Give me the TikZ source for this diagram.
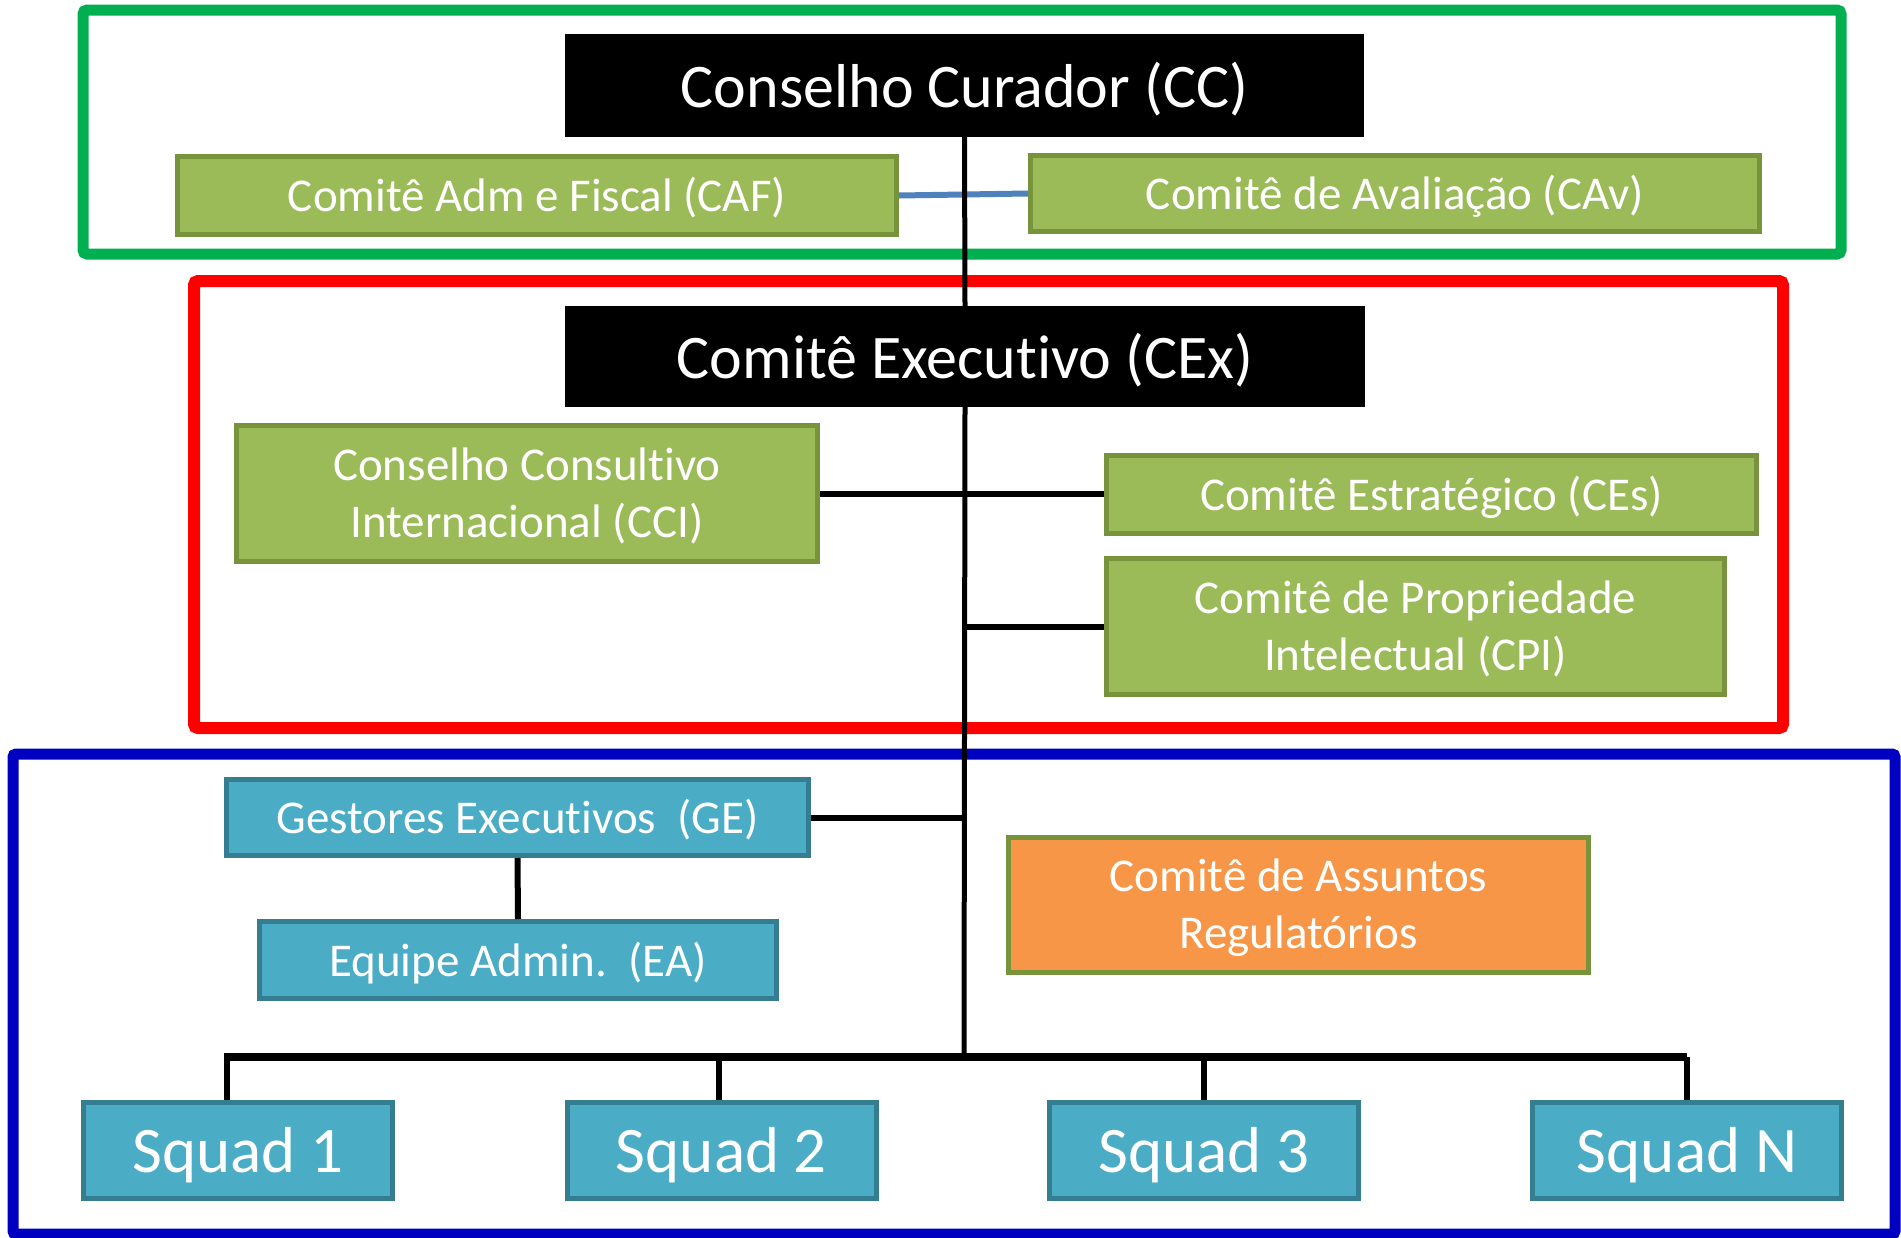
\documentclass[tikz,border=0pt]{standalone}
\usepackage{fontspec}
\setmainfont[Ligatures={NoCommon,NoRequired},RawFeature={-calt;-clig;-dlig;-liga}]{Carlito}
\usepackage{xcolor}
\usepackage{tikz}
\definecolor{frameGreen}{HTML}{00B050}
\definecolor{frameRed}{HTML}{FF0000}
\definecolor{frameBlue}{HTML}{0000C0}
\definecolor{boxGreen}{HTML}{9BBB59}
\definecolor{boxGreenLine}{HTML}{77933C}
\definecolor{boxBlue}{HTML}{4BACC6}
\definecolor{boxBlueLine}{HTML}{357D91}
\definecolor{boxOrange}{HTML}{F79646}
\definecolor{linkBlue}{HTML}{4F81BD}

\begin{document}
\begin{tikzpicture}[x=1pt, y=-1pt,
    blackbox/.style={fill=black, text=white, inner sep=0pt, text depth=2pt, font=\fontsize{62}{74}\selectfont},
    greenbox/.style={fill=boxGreen, draw=boxGreenLine, line width=5pt, text=white, inner sep=0pt,
        text depth=2pt, align=center, font=\fontsize{47}{57}\selectfont},
    orangebox/.style={greenbox, fill=boxOrange},
    bluebox/.style={fill=boxBlue, draw=boxBlueLine, line width=5pt, text=white, inner sep=0pt,
        text depth=2pt, align=center, font=\fontsize{47}{57}\selectfont},
    squadbox/.style={bluebox, minimum width=309pt, minimum height=96pt, font=\fontsize{65}{78}\selectfont},
    trunk/.style={black, line width=5pt},
    link/.style={black, line width=6pt},
    busline/.style={black, line width=8pt}]
    \useasboundingbox (0,0) rectangle (1901,1237);
    \fill[white] (0,0) rectangle (1901,1237);
    % frames
    \draw[frameGreen, line width=11pt, rounded corners=4pt] (83,10) rectangle (1841,254);
    \draw[frameRed, line width=12pt, rounded corners=4pt] (194,281) rectangle (1783,728);
    \draw[frameBlue, line width=11pt, rounded corners=3pt] (13,754) rectangle (1895,1234);
    % top level
    \node[blackbox, minimum width=799pt, minimum height=103pt] (cc) at (964.5,85.5) {Conselho Curador (CC)};
    \node[greenbox, minimum width=719pt, minimum height=78pt] (caf) at (537,195.5) {Comitê Adm e Fiscal (CAF)};
    \node[greenbox, minimum width=729pt, minimum height=76pt] (cav) at (1395,193.5) {Comitê de Avaliação (CAv)};
    % executive level
    \node[blackbox, minimum width=800pt, minimum height=101pt] (cex) at (965,356.5) {Comitê Executivo (CEx)};
    \node[greenbox, minimum width=581pt, minimum height=136pt] (cci) at (527,493.5) {Conselho Consultivo\\Internacional (CCI)};
    \node[greenbox, minimum width=650pt, minimum height=78pt] (ces) at (1431.5,494.5) {Comitê Estratégico (CEs)};
    \node[greenbox, minimum width=618pt, minimum height=136pt] (cpi) at (1415.5,626.5) {Comitê de Propriedade\\Intelectual (CPI)};
    % operational level
    \node[bluebox, minimum width=582pt, minimum height=76pt] (ge) at (517.5,817.5) {Gestores Executivos~~(GE)};
    \node[bluebox, minimum width=517pt, minimum height=77pt] (ea) at (518,960) {Equipe Admin.~~(EA)};
    \node[orangebox, minimum width=580pt, minimum height=135pt] (car) at (1298.5,905) {Comitê de Assuntos\\Regulatórios};
    \node[squadbox] (s1) at (238,1150.5) {Squad 1};
    \node[squadbox] (s2) at (721.5,1150.5) {Squad 2};
    \node[squadbox] (s3) at (1204,1150.5) {Squad 3};
    \node[squadbox] (sN) at (1687,1150.5) {Squad N};
    % connectors
    \coordinate (bus) at (964,1057);
    \draw[linkBlue, line width=6pt] (caf.east) -- (cav.west);
    \draw[trunk] (cc.south) -- (cex.north);
    \draw[trunk] (cex.south) -- (bus);
    \draw[link] (cci.east) -- (cci.east -| ces.west);
    \draw[link] (cpi.west -| cex.south) -- (cpi.west);
    \draw[link] (ge.east) -- (ge.east -| cex.south);
    \draw[link] (ge.south) -- (ea.north);
    \draw[busline] ([xshift=-14pt]s1.north |- bus) -- (sN.north |- bus);
    \foreach \sq/\dx in {s1/-11,s2/-3,s3/0,sN/0}
        \draw[link] ([xshift=\dx pt]\sq.north) -- ([xshift=\dx pt]\sq.north |- bus);
\end{tikzpicture}
\end{document}
